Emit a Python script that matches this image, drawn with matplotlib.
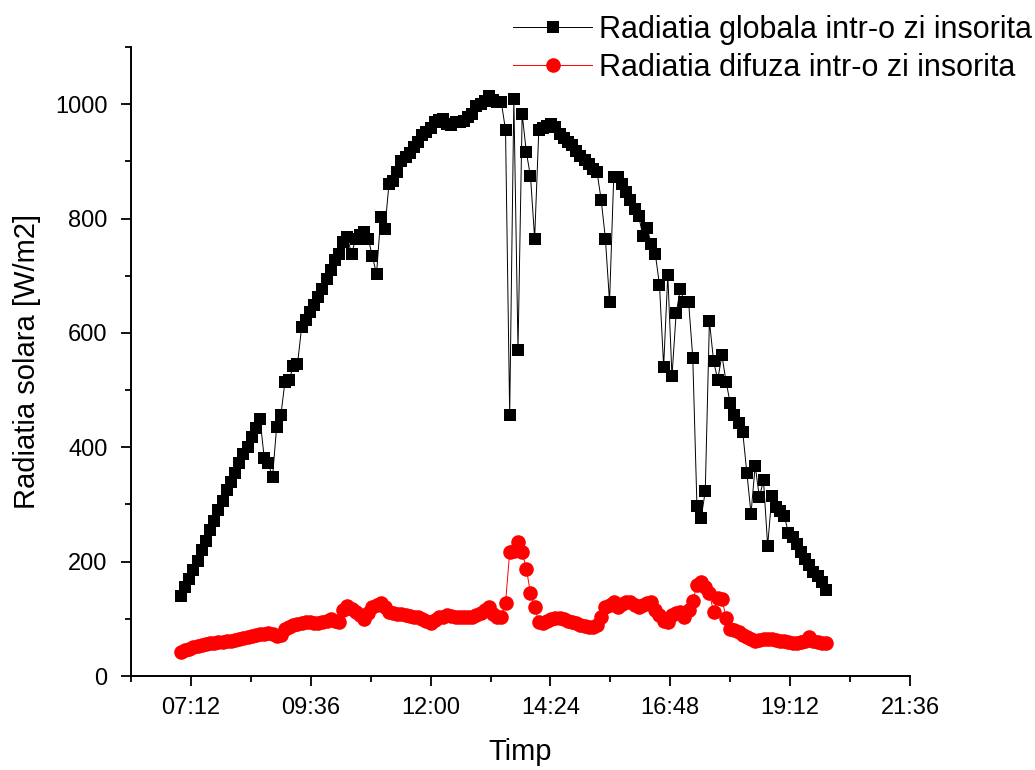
import numpy as np
import matplotlib
matplotlib.use("Agg")
import matplotlib.pyplot as plt
from matplotlib.ticker import MultipleLocator, FuncFormatter

plt.rcParams['font.family'] = ['Liberation Sans', 'DejaVu Sans']

# masuratori la fiecare 5 minute, de la 07:00 la 19:55
start_hour = 7.0
step_min = 5

# radiatia globala [W/m2]
global_rad = [
    140, 156, 170, 186, 202, 220, 237, 255, 272, 290,
    306, 325, 340, 355, 372, 389, 400, 418, 434, 450,
    382, 372, 348, 436, 456, 515, 517, 543, 545, 610,
    622, 636, 648, 663, 677, 695, 710, 727, 738, 759,
    767, 738, 765, 772, 776, 765, 734, 703, 802, 782,
    861, 866, 882, 900, 908, 915, 925, 934, 946, 952,
    958, 968, 972, 974, 965, 963, 968, 968, 970, 978,
    983, 996, 1001, 1006, 1015, 1008, 1003, 1003, 955, 457,
    1009, 571, 983, 916, 874, 765, 955, 958, 962, 966,
    960, 948, 940, 934, 928, 918, 910, 902, 896, 886,
    881, 832, 765, 654, 872, 872, 861, 847, 832, 817,
    805, 770, 784, 756, 738, 684, 541, 702, 524, 634,
    676, 654, 654, 557, 298, 276, 323, 621, 551, 518,
    561, 515, 477, 457, 443, 427, 355, 284, 368, 313,
    342, 228, 314, 295, 288, 280, 250, 243, 231, 217,
    205, 194, 182, 175, 164, 151,
]

# radiatia difuza [W/m2]
diffuse_rad = [
    42, 45, 48, 50, 53, 55, 56, 58, 58, 59,
    60, 61, 62, 63, 65, 66, 68, 70, 72, 73,
    74, 75, 73, 70, 72, 82, 86, 89, 91, 92,
    94, 94, 93, 92, 94, 97, 100, 97, 95, 115,
    122, 118, 112, 106, 100, 110, 121, 125, 127, 120,
    112, 110, 109, 108, 106, 105, 104, 103, 100, 96,
    92, 98, 103, 104, 106, 105, 104, 103, 103, 103,
    104, 106, 110, 115, 121, 108, 104, 103, 128, 217,
    218, 234, 217, 188, 145, 121, 94, 93, 96, 99,
    101, 102, 99, 97, 94, 92, 90, 87, 86, 86,
    89, 103, 121, 125, 129, 121, 126, 129, 129, 125,
    120, 124, 127, 129, 115, 106, 97, 94, 106, 110,
    112, 103, 115, 132, 159, 164, 155, 145, 112, 137,
    135, 102, 83, 80, 77, 72, 68, 65, 62, 63,
    65, 65, 64, 63, 62, 62, 60, 57, 58, 59,
    62, 68, 62, 59, 58, 58,
]

# timp ca fractie din zi (ca in Origin)
t = (start_hour + np.arange(len(global_rad)) * step_min / 60.0) / 24.0


def day_to_hhmm(x, pos=None):
    mins = int(round(x * 1440))
    return "%02d:%02d" % (mins // 60, mins % 60)


fig = plt.figure(figsize=(10.35, 7.7), dpi=100)
ax = fig.add_axes([0.1266, 0.122, 0.7526, 0.817])

ax.plot(t, global_rad, color="black", linewidth=0.7, marker="s",
        markersize=8.3, markeredgewidth=0, label="Radiatia globala intr-o zi insorita")
ax.plot(t, diffuse_rad, color="red", linewidth=0.7, marker="o",
        markersize=10.5, markeredgewidth=0, label="Radiatia difuza intr-o zi insorita")

ax.set_xlim(0.25, 0.9)
ax.set_ylim(0, 1100)
ax.xaxis.set_major_locator(MultipleLocator(0.1))
ax.xaxis.set_minor_locator(MultipleLocator(0.05))
ax.xaxis.set_major_formatter(FuncFormatter(day_to_hhmm))
ax.yaxis.set_major_locator(MultipleLocator(200))
ax.yaxis.set_minor_locator(MultipleLocator(100))

for side in ("top", "right"):
    ax.spines[side].set_visible(False)
for side in ("left", "bottom"):
    ax.spines[side].set_linewidth(1.4)

ax.tick_params(which="major", direction="out", length=7, width=1.3,
               labelsize=17)
ax.tick_params(which="minor", direction="out", length=4, width=1.3)
ax.tick_params(axis="x", which="major", pad=8)
ax.tick_params(axis="y", which="major", pad=10)

ax.set_xlabel("Timp", fontsize=21, labelpad=14)
ax.set_ylabel("Radiatia solara [W/m2]", fontsize=21, labelpad=10)

ax.legend(loc="upper left", bbox_to_anchor=(513 / 1035, 1 - 15 / 770),
          bbox_transform=fig.transFigure, frameon=False, fontsize=22,
          handlelength=2.6, handletextpad=0.2, labelspacing=0.25,
          borderpad=0, borderaxespad=0, numpoints=1)

fig.savefig("out.png", dpi=100)
